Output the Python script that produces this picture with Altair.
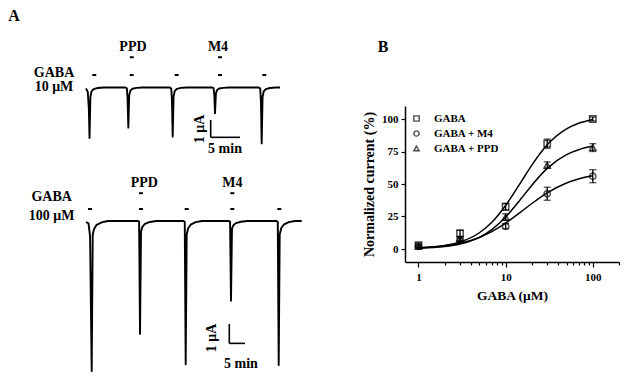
import altair as alt
import pandas as pd

SERIF = "Liberation Serif"

# ---------------- Panel A: current traces (time in min, current in uA) ----------------
top_time = [0.00, 0.30, 0.48, 0.60, 0.75, 0.95, 1.30, 2.00, 3.00,
            6.71, 6.96, 7.08, 7.21, 7.36, 7.56, 7.91, 8.61, 9.61,
            14.27, 14.52, 14.64, 14.77, 14.92, 15.12, 15.47, 16.17, 17.17,
            21.48, 21.73, 21.85, 21.98, 22.13, 22.33, 22.68, 23.38, 24.38,
            29.43, 29.68, 29.80, 29.93, 30.08, 30.28, 30.63, 31.33, 32.33, 33.05]
top_current = [-0.05, -0.25, -1.20, -2.92, -0.55, -0.22, -0.09, -0.03, 0.00,
               0.00, -0.05, -0.60, -2.32, -0.45, -0.18, -0.07, -0.02, 0.00,
               0.00, -0.06, -0.70, -2.84, -0.50, -0.20, -0.08, -0.02, 0.00,
               0.00, -0.04, -0.40, -1.49, -0.35, -0.14, -0.06, -0.02, 0.00,
               0.00, -0.06, -0.80, -3.23, -0.55, -0.22, -0.09, -0.03, 0.00, 0.00]

bot_time = [0.00, 0.80, 1.30, 1.82, 2.15, 2.60, 3.40, 5.00, 7.00,
            16.50, 16.95, 17.24, 17.56, 18.00, 18.80, 20.40, 22.40,
            31.10, 31.52, 31.82, 32.14, 32.60, 33.40, 35.00, 37.00,
            45.60, 45.98, 46.28, 46.60, 47.05, 47.85, 49.45, 51.45,
            60.80, 61.21, 61.51, 61.83, 62.30, 63.10, 64.70, 66.70, 68.85]
bot_current = [-0.05, -0.12, -0.80, -7.77, -0.70, -0.40, -0.20, -0.07, 0.00,
               0.00, -0.03, -5.85, -0.55, -0.30, -0.15, -0.05, 0.00,
               0.00, -0.04, -7.42, -0.70, -0.38, -0.19, -0.06, 0.00,
               0.00, -0.03, -4.13, -0.40, -0.22, -0.11, -0.04, 0.00,
               0.00, -0.04, -7.46, -0.70, -0.38, -0.19, -0.06, 0.00, 0.00]

# application markers (time) and drug labels
top_gaba_marks = [1.41, 7.79, 15.45, 22.83, 30.37]
top_drug_marks = [7.79, 22.83]
top_drug_label_t = [8.0, 22.49]
bot_gaba_marks = [1.28, 17.55, 32.14, 46.70, 61.70]
bot_drug_marks = [17.55, 46.70]
bot_drug_label_t = [18.6, 46.70]
drug_names = ["PPD", "M4"]

# ---------------- Panel B: concentration-response ----------------
conc = [1, 3, 10, 30, 100]
gaba_mean = [3, 12, 32.5, 81, 100]
gaba_sem = [1.5, 2.5, 2.5, 3.5, 1.5]
m4_mean = [2, 7, 17.5, 42.5, 56]
m4_sem = [1, 1.5, 2, 5, 5]
ppd_mean = [2, 8, 24.5, 64.5, 78]
ppd_sem = [1, 1.5, 2.5, 2.5, 3]

fit_conc = [1, 2, 3, 5, 7, 10, 15, 20, 30, 50, 70, 100]
gaba_fit = [0.8, 2.7, 5.4, 12.5, 20.8, 33.5, 51.5, 64.5, 80.1, 92.4, 96.9, 99.7]
m4_fit = [0.9, 2.5, 4.5, 8.9, 13.5, 19.9, 28.6, 35.0, 43.2, 50.8, 54.1, 56.4]
ppd_fit = [0.6, 1.9, 3.9, 9.0, 15.1, 24.6, 38.6, 49.1, 62.0, 72.6, 76.6, 79.0]

series_names = ["GABA", "GABA + M4", "GABA + PPD"]
x_ticks = [1, 2, 3, 4, 5, 6, 7, 8, 9, 10, 20, 30, 40, 50, 60, 70, 80, 90, 100, 200]
y_ticks = [0, 25, 50, 75, 100]

# ---------------- helpers ----------------
def text_layer(df, xs, ys, size=14, angle=None, align="center"):
    kw = dict(font=SERIF, fontWeight="bold", fontSize=size, color="black",
              align=align, baseline="middle")
    if angle is not None:
        kw["angle"] = angle
    return alt.Chart(df).mark_text(**kw).encode(
        x=alt.X("t:Q", scale=xs, axis=None),
        y=alt.Y("i:Q", scale=ys, axis=None),
        text="label:N",
    )


def dash_layer(times, level, half_width, xs, ys):
    df = pd.DataFrame({"t": [t - half_width for t in times],
                       "t2": [t + half_width for t in times],
                       "i": [level] * len(times)})
    return alt.Chart(df).mark_rule(color="black", strokeWidth=2).encode(
        x=alt.X("t:Q", scale=xs, axis=None), x2="t2:Q",
        y=alt.Y("i:Q", scale=ys, axis=None),
    )


def trace_group(times, currents, xs, ys, conc_label, marks, mark_y, drug_marks,
                drug_mark_y, drug_t, drug_y, label_t, label_y1, label_y2,
                bar_t, bar_top, bar_bottom, ua_pos, min_pos, dash_hw):
    tdf = pd.DataFrame({"t": times, "i": currents, "k": range(len(times))})
    line = alt.Chart(tdf).mark_line(color="black", strokeWidth=1.9,
                                    strokeJoin="round").encode(
        x=alt.X("t:Q", scale=xs, axis=None),
        y=alt.Y("i:Q", scale=ys, axis=None),
        order="k:Q",
    )
    m1 = dash_layer(marks, mark_y, dash_hw, xs, ys)
    m2 = dash_layer(drug_marks, drug_mark_y, dash_hw, xs, ys)
    dl = text_layer(pd.DataFrame({"t": drug_t, "i": [drug_y] * len(drug_t),
                                  "label": drug_names}), xs, ys, size=14)
    cl = text_layer(pd.DataFrame({"t": [label_t, label_t], "i": [label_y1, label_y2],
                                  "label": ["GABA", conc_label]}), xs, ys, size=14)
    bars = pd.DataFrame({"t": [bar_t, bar_t], "t2": [bar_t, bar_t + 5],
                         "i": [bar_top, bar_bottom], "i2": [bar_bottom, bar_bottom]})
    sb = alt.Chart(bars).mark_rule(color="black", strokeWidth=1.6).encode(
        x=alt.X("t:Q", scale=xs, axis=None), x2="t2:Q",
        y=alt.Y("i:Q", scale=ys, axis=None), y2="i2:Q",
    )
    ua = text_layer(pd.DataFrame({"t": [ua_pos[0]], "i": [ua_pos[1]], "label": ["1 μA"]}),
                    xs, ys, size=14, angle=270)
    mn = text_layer(pd.DataFrame({"t": [min_pos[0]], "i": [min_pos[1]], "label": ["5 min"]}),
                    xs, ys, size=14)
    return alt.layer(line, m1, m2, dl, cl, sb, ua, mn)


TOP_X = alt.Scale(domain=[0, 33.05], range=[86, 280])
TOP_Y = alt.Scale(domain=[-4, 3], range=[156.7, 35.6])
BOT_X = alt.Scale(domain=[0, 68.85], range=[86, 301.7])
BOT_Y = alt.Scale(domain=[-8, 11], range=[375.4, 8.7])

top_group = trace_group(top_time, top_current, TOP_X, TOP_Y, "10 μM",
                        top_gaba_marks, 0.72, top_drug_marks, 1.75,
                        top_drug_label_t, 2.36, -5.45, 0.82, 0.03,
                        21.24, -1.88, -2.88, (19.42, -2.40), (23.68, -3.55), 0.34)
bot_group = trace_group(bot_time, bot_current, BOT_X, BOT_Y, "100 μM",
                        bot_gaba_marks, 0.62, bot_drug_marks, 1.44,
                        bot_drug_label_t, 1.95, -10.95, 1.22, 0.28,
                        45.74, -5.34, -6.34, (40.2, -6.06), (49.47, -7.41), 0.64)

# ---------------- Panel B layers ----------------
B_X = alt.Scale(type="log", domain=[0.7, 200], range=[405, 619])
B_Y = alt.Scale(domain=[-10, 110], range=[262, 106])
major = "datum.value == 1 || datum.value == 10 || datum.value == 100"
axis_x = alt.Axis(
    orient="bottom", offset=-115, values=x_ticks,
    labelExpr="datum.value == 1 ? '1' : datum.value == 10 ? '10' : datum.value == 100 ? '100' : ''",
    tickSize={"condition": {"test": major, "value": 5}, "value": 3},
    title="GABA (μM)", titleFont=SERIF, titleFontSize=13.5, titleFontWeight="bold",
    titleColor="black", titlePadding=6,
    labelFont=SERIF, labelFontSize=11, labelFontWeight="bold", labelColor="black",
    labelPadding=4, labelFlush=False, labelOverlap=False,
    domainColor="black", domainWidth=1.5, tickColor="black", tickWidth=1.2, grid=False,
)
axis_y = alt.Axis(
    orient="left", offset=-405, values=y_ticks, tickSize=4,
    title="Normalized current (%)", titleFont=SERIF, titleFontSize=14,
    titleFontWeight="bold", titleColor="black", titlePadding=5,
    labelFont=SERIF, labelFontSize=11, labelFontWeight="bold", labelColor="black",
    labelPadding=3, domainColor="black", domainWidth=1.5, tickColor="black",
    tickWidth=1.2, grid=False,
)

fit_df = pd.DataFrame({
    "x": fit_conc * 3,
    "y": gaba_fit + m4_fit + ppd_fit,
    "series": [s for s in series_names for _ in fit_conc],
})
pts_df = pd.DataFrame({
    "x": conc * 3,
    "y": gaba_mean + m4_mean + ppd_mean,
    "sem": gaba_sem + m4_sem + ppd_sem,
    "series": [s for s in series_names for _ in conc],
})
pts_df["lo"] = pts_df["y"] - pts_df["sem"]
pts_df["hi"] = pts_df["y"] + pts_df["sem"]
caps_df = pd.DataFrame({
    "x": list(pts_df["x"]) * 2,
    "y": list(pts_df["lo"]) + list(pts_df["hi"]),
})

curves = alt.Chart(fit_df).mark_line(color="black", strokeWidth=1.5,
                                     interpolate="monotone").encode(
    x=alt.X("x:Q", scale=B_X, axis=axis_x),
    y=alt.Y("y:Q", scale=B_Y, axis=axis_y),
    detail="series:N",
)
err = alt.Chart(pts_df).mark_rule(color="black", strokeWidth=1.3).encode(
    x=alt.X("x:Q", scale=B_X, axis=axis_x),
    y=alt.Y("lo:Q", scale=B_Y, axis=axis_y),
    y2="hi:Q",
)
caps = alt.Chart(caps_df).mark_tick(color="black", orient="horizontal",
                                    size=7, thickness=1.3).encode(
    x=alt.X("x:Q", scale=B_X, axis=axis_x),
    y=alt.Y("y:Q", scale=B_Y, axis=axis_y),
)
points = alt.Chart(pts_df).mark_point(filled=False, color="black", size=40,
                                      strokeWidth=1.5).encode(
    x=alt.X("x:Q", scale=B_X, axis=axis_x),
    y=alt.Y("y:Q", scale=B_Y, axis=axis_y),
    shape=alt.Shape("series:N",
                    scale=alt.Scale(domain=series_names,
                                    range=["square", "circle", "triangle-up"]),
                    legend=alt.Legend(orient="none", legendX=411, legendY=113,
                                      title=None, labelFont=SERIF, labelFontSize=11,
                                      labelFontWeight="bold", labelColor="black",
                                      symbolSize=28, symbolStrokeWidth=1.4,
                                      symbolStrokeColor="black", rowPadding=3,
                                      labelOffset=12)),
)
b_group = alt.layer(curves, err, caps, points)

letters = alt.Chart(pd.DataFrame({"px": [14, 383], "py": [16, 47], "label": ["A", "B"]})).mark_text(
    font=SERIF, fontWeight="bold", fontSize=16, color="black", align="center", baseline="middle"
).encode(
    x=alt.X("px:Q", scale=None, axis=None),
    y=alt.Y("py:Q", scale=None, axis=None),
    text="label:N",
)

chart = alt.layer(top_group, bot_group, b_group, letters).resolve_scale(
    x="independent", y="independent"
).properties(
    width=624, height=377, padding=0,
    autosize=alt.AutoSizeParams(type="none"),
    background="white",
).configure_view(stroke=None)

chart.save("out.html", embed_options={"renderer": "svg", "actions": False})
